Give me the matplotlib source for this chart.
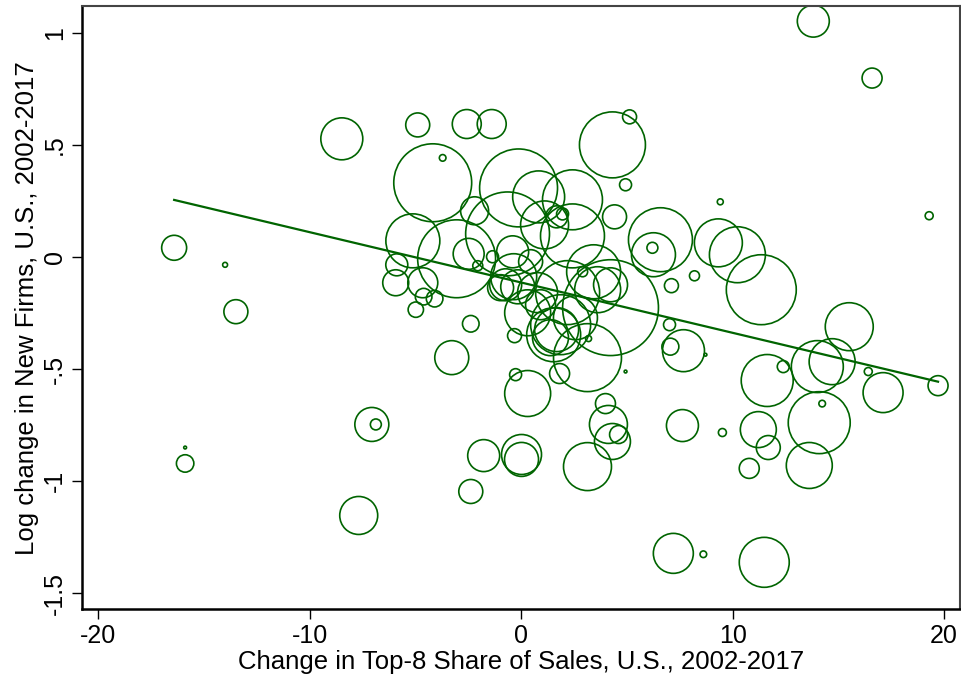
import numpy as np
import matplotlib.pyplot as plt

plt.rcParams['font.family'] = ['Liberation Sans', 'DejaVu Sans']
plt.rcParams['axes.unicode_minus'] = False

# change in top-8 share of sales (x), log change in new firms (y), bubble weight
top8_change = [
    13.81, 16.59, 19.29, 9.41, 4.31, 5.12, 4.93, 4.41, 6.58, 6.25,
    6.20, 9.32, 10.22, 7.10, 8.19, 7.01, 7.05, 7.67, 8.71, 11.35,
    15.51, 14.00, 14.70, 12.39, 11.63, 16.41, 17.11, 19.71, 14.09, 14.23,
    11.21, 11.68, 10.78, 13.62, 7.19, 8.61, 11.49, 7.62, 9.51, 3.98,
    4.12, 4.31, 4.60, 4.93, 3.13, 3.13, 1.81, 0.30, -0.27, -0.32,
    0.01, 0.01, -1.78, -2.39, -3.29, -2.39, -7.69, -7.07, -6.88, -15.90,
    -15.90, -13.50, -14.01, -16.42, -8.49, -4.90, -2.58, -1.40, -3.72, -4.19,
    -0.13, 0.82, 2.42, 1.95, 1.67, 1.10, 2.42, -2.21, -3.06, -0.65,
    -2.49, -2.06, -1.36, -0.41, -5.13, -5.89, -5.94, -4.66, -4.62, -4.10,
    -4.99, 4.22, 1.53, 1.67, 1.38, 1.86, 2.19, 3.61, 2.90, 3.18,
    3.42, 4.22, -0.36, -0.17, -0.98, 0.77, 0.30, -0.74, 2.56, 0.91,
    0.44,
]
new_firms_change = [
    1.052, 0.798, 0.184, 0.246, 0.500, 0.625, 0.322, 0.179, 0.077, 0.010,
    0.041, 0.063, 0.010, -0.128, -0.084, -0.302, -0.400, -0.418, -0.436, -0.146,
    -0.311, -0.489, -0.467, -0.489, -0.551, -0.511, -0.605, -0.574, -0.739, -0.654,
    -0.770, -0.850, -0.943, -0.930, -1.322, -1.326, -1.362, -0.752, -0.783, -0.654,
    -0.747, -0.823, -0.792, -0.511, -0.935, -0.449, -0.520, -0.609, -0.525, -0.351,
    -0.881, -0.903, -0.886, -1.046, -0.449, -0.298, -1.153, -0.747, -0.747, -0.921,
    -0.850, -0.244, -0.035, 0.041, 0.527, 0.589, 0.593, 0.593, 0.442, 0.331,
    0.308, 0.268, 0.255, 0.192, 0.179, 0.143, 0.094, 0.206, -0.008, 0.103,
    0.014, -0.039, 0.001, 0.023, 0.072, -0.035, -0.115, -0.115, -0.177, -0.186,
    -0.235, -0.226, -0.347, -0.324, -0.360, -0.302, -0.159, -0.146, -0.066, -0.364,
    -0.066, -0.124, -0.088, -0.133, -0.137, -0.159, -0.249, -0.124, -0.271, -0.213,
    -0.021,
]
weight = [
    2.56, 1.00, 0.16, 0.09, 10.9, 0.49, 0.36, 1.44, 10.24, 4.84,
    0.30, 5.76, 7.84, 0.49, 0.25, 0.36, 0.72, 4.41, 0.02, 12.25,
    5.76, 6.76, 5.29, 0.36, 6.76, 0.16, 4.00, 1.00, 9.61, 0.11,
    3.24, 1.44, 1.00, 5.29, 4.00, 0.11, 6.25, 2.56, 0.16, 1.00,
    3.61, 3.24, 0.81, 0.02, 5.76, 11.56, 1.00, 5.29, 0.36, 0.49,
    4.00, 2.89, 2.56, 1.44, 2.89, 0.69, 3.61, 2.89, 0.30, 0.76,
    0.02, 1.44, 0.06, 1.56, 4.41, 1.44, 2.10, 2.10, 0.11, 15.2,
    15.2, 6.76, 9.00, 0.36, 1.21, 5.76, 10.24, 1.96, 15.2, 17.6,
    2.40, 0.25, 0.36, 2.56, 7.29, 1.21, 1.69, 2.25, 0.69, 0.69,
    0.59, 23.0, 7.29, 4.84, 3.24, 9.00, 10.24, 5.29, 0.25, 0.09,
    7.29, 2.89, 5.29, 2.89, 1.69, 4.00, 5.29, 2.56, 4.84, 2.25,
    1.44,
]

# weighted linear fit
fit_intercept = -0.114
fit_slope = -0.02244

x = np.array(top8_change)
y = np.array(new_firms_change)
w = np.array(weight)

green = '#006400'

fig = plt.figure(figsize=(9.61, 6.78), dpi=100)
ax = fig.add_axes([0.0855, 0.1015, 0.9135, 0.8895])

ax.scatter(x, y, s=w * 207, facecolors='none', edgecolors=green, linewidths=1.2)
xl = np.array([x.min(), x.max()])
ax.plot(xl, fit_intercept + fit_slope * xl, color=green, lw=1.6)

ax.set_xlim(-20.77, 20.75)
ax.set_ylim(-1.571, 1.119)
ax.set_xticks([-20, -10, 0, 10, 20])
ax.set_yticks([1, 0.5, 0, -0.5, -1, -1.5])
ax.set_yticklabels(['1', '.5', '0', '-.5', '-1', '-1.5'], rotation=90, va='center')
ax.tick_params(axis='both', direction='out', length=7, width=1, labelsize=18, pad=4)

for side in ['left', 'bottom']:
    ax.spines[side].set_linewidth(1.8)
    ax.spines[side].set_color('black')
for side in ['top', 'right']:
    ax.spines[side].set_linewidth(1.5)
    ax.spines[side].set_color('#444444')

ax.set_xlabel('Change in Top-8 Share of Sales, U.S., 2002-2017', fontsize=18.5, labelpad=1)
ax.set_ylabel('Log change in New Firms, U.S., 2002-2017', fontsize=18.5, labelpad=3)

fig.savefig('out.png', dpi=100)
